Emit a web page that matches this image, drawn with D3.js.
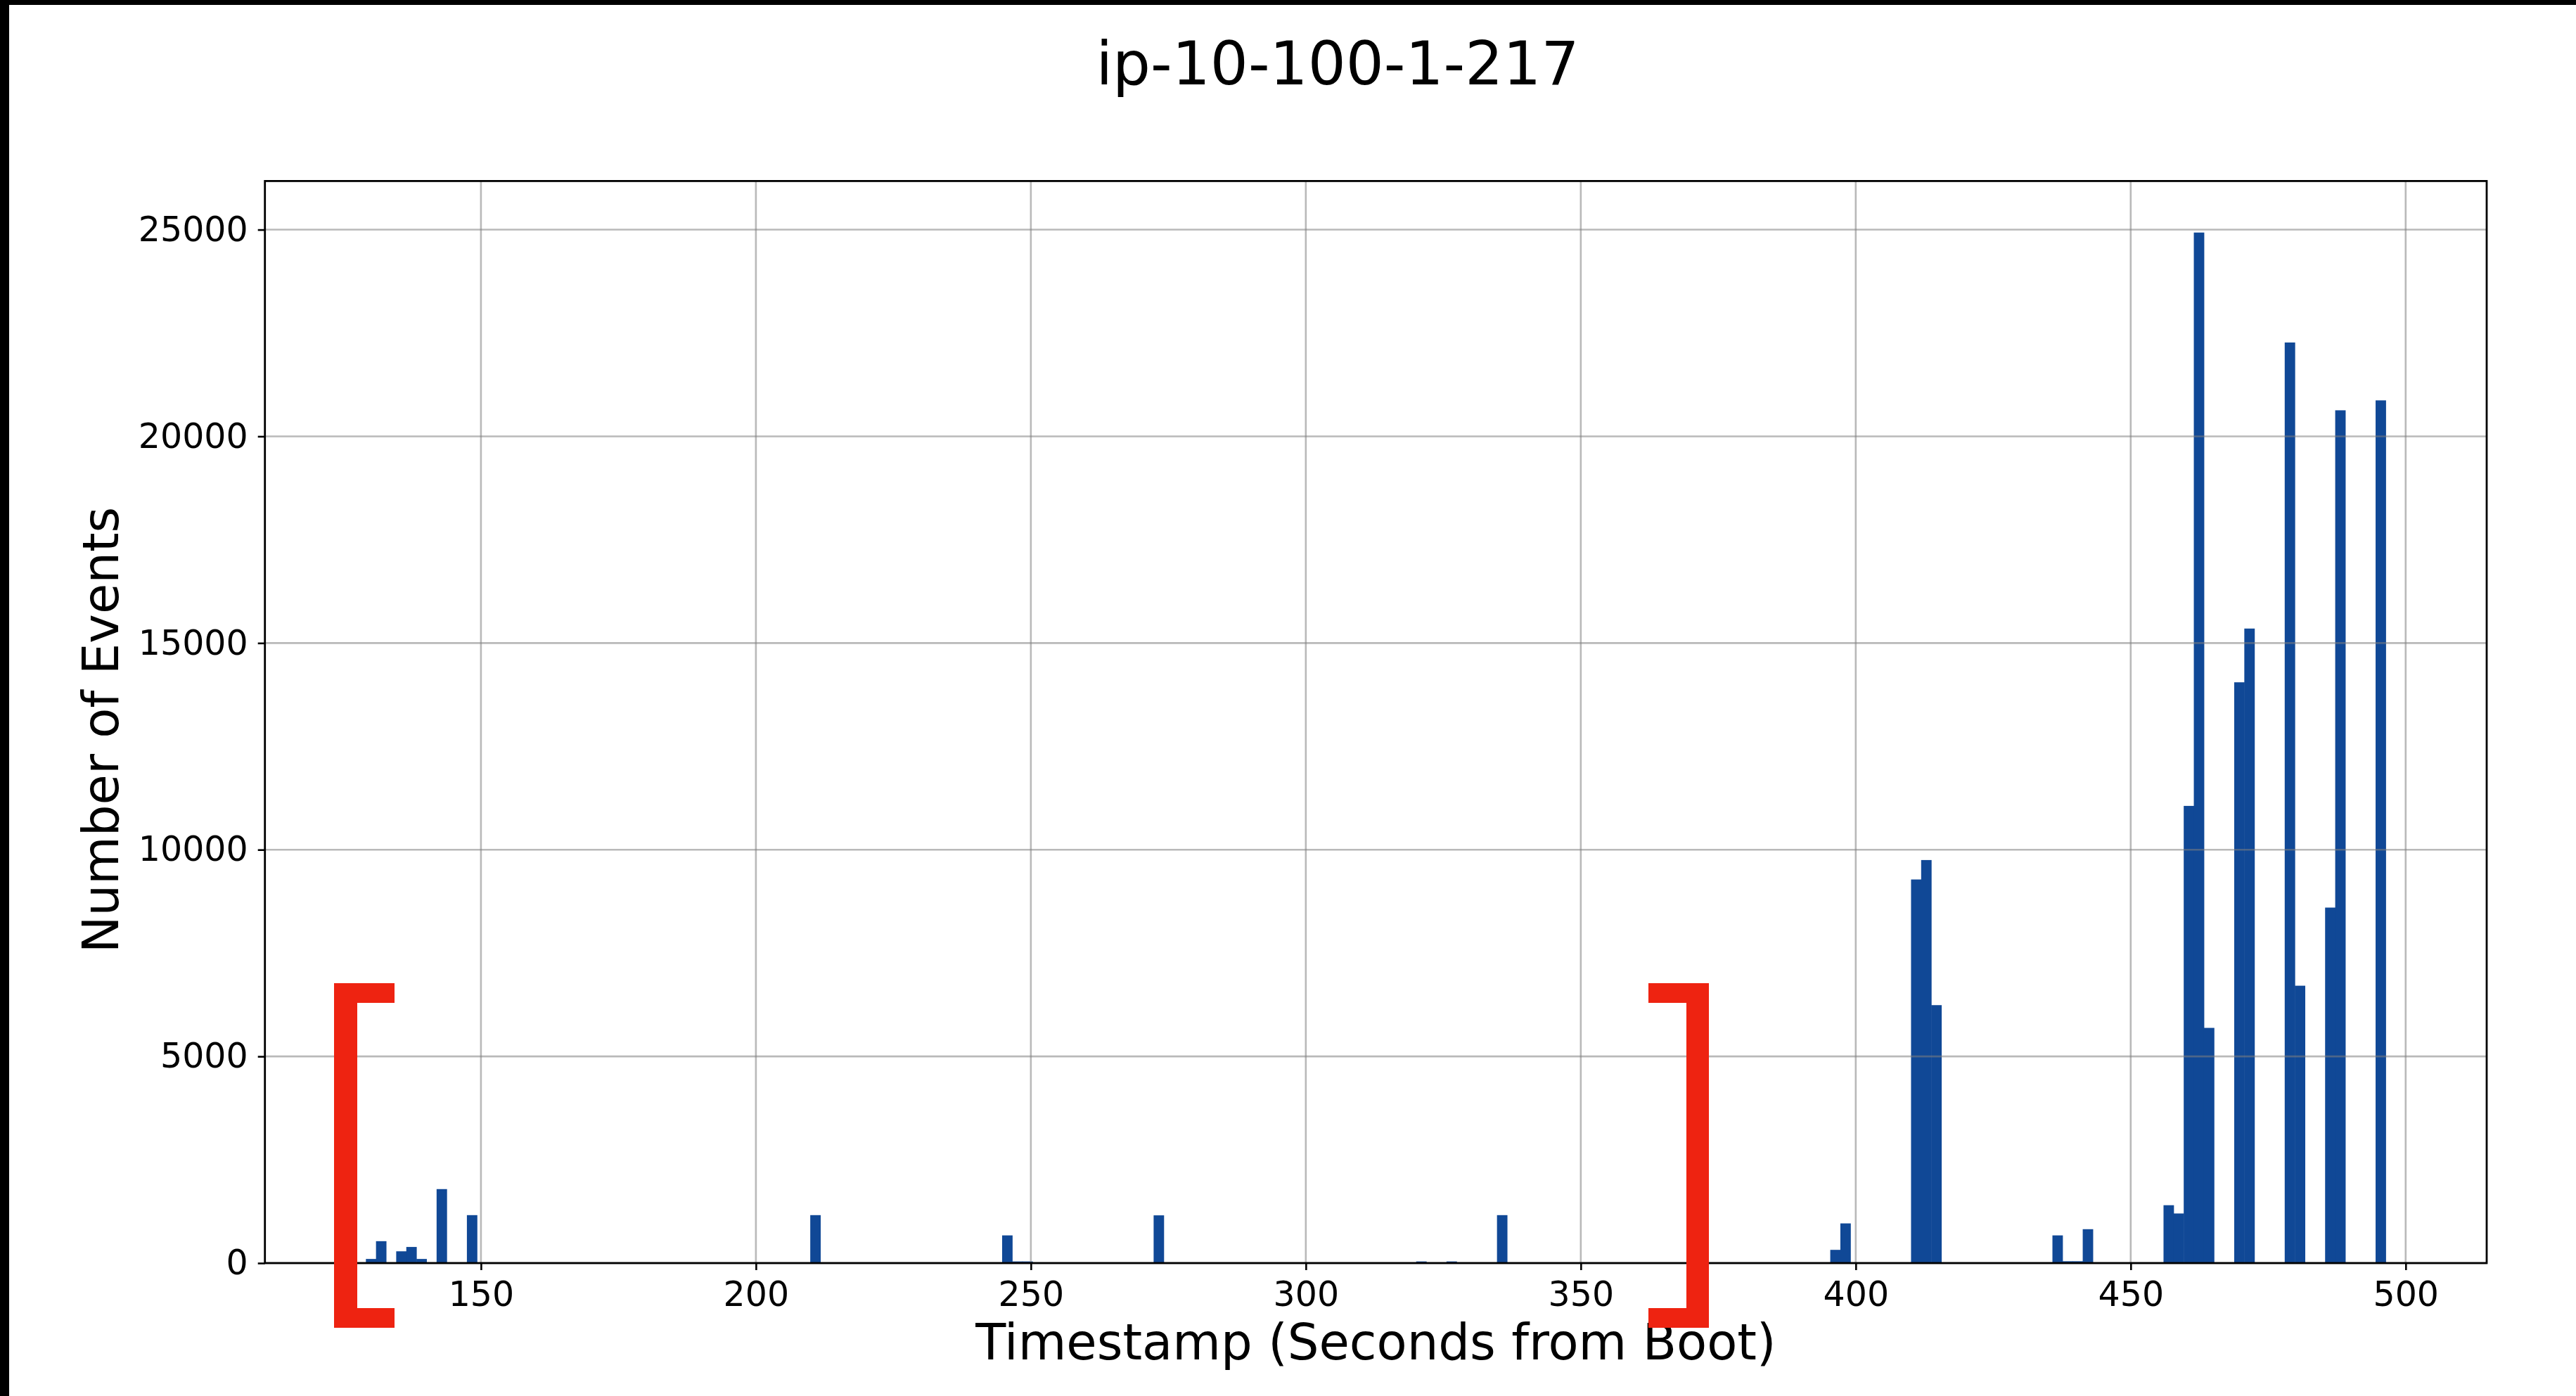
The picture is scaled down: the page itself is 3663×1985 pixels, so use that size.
<!DOCTYPE html>
<html>
<head>
<meta charset="utf-8">
<script src="https://cdn.jsdelivr.net/npm/d3@7"></script>
<style>
  html, body { margin: 0; padding: 0; background: #ffffff; }
  svg { display: block; }
  text { font-family: "DejaVu Sans", sans-serif; fill: #000; }
</style>
</head>
<body>
<svg id="chart" width="3663" height="1985"></svg>
<script>
// ---- data ----
const chartTitle = "ip-10-100-1-217";
const xLabel = "Timestamp (Seconds from Boot)";
const yLabel = "Number of Events";
const tMin = 129.08;          // first bin left edge (s)
const tMax = 496.37;          // last bin right edge (s)
const nBins = 200;
const binIndex = [0,1,3,4,5,7,10,44,63,64,65,78,104,107,112,145,146,153,154,155,167,168,169,170,178,179,180,181,182,185,186,190,191,194,195,199];
const counts   = [100,530,285,390,100,1790,1160,1160,670,40,40,1155,40,40,1160,320,960,9280,9750,6240,670,45,45,820,1400,1200,11060,24930,5690,14050,15350,22270,6710,8600,20630,20870];
const xTicks = [150,200,250,300,350,400,450,500];
const yTicks = [0,5000,10000,15000,20000,25000];

// ---- layout ----
const W = 3663, H = 1985;
const plot = { left: 376.7, right: 3536, top: 257.4, bottom: 1796 };
const svg = d3.select("#chart");

svg.append("rect").attr("width", W).attr("height", H).attr("fill", "#fff");

const binW = (tMax - tMin) / nBins;
const span = tMax - tMin;
const x = d3.scaleLinear()
  .domain([tMin - 0.05 * span, tMax + 0.05 * span])
  .range([plot.left, plot.right]);
const y = d3.scaleLinear()
  .domain([0, d3.max(counts) * 1.05])
  .range([plot.bottom, plot.top]);

const bins = binIndex.map((b, i) => ({ x0: tMin + b * binW, x1: tMin + (b + 1) * binW, n: counts[i] }));

// bars
svg.append("g").selectAll("rect").data(bins).join("rect")
  .attr("x", d => x(d.x0))
  .attr("width", d => x(d.x1) - x(d.x0) + 0.5)
  .attr("y", d => y(d.n))
  .attr("height", d => y(0) - y(d.n))
  .attr("fill", "#104896");

// grid (drawn over bars, as in the reference)
const grid = svg.append("g").attr("stroke", "#7f7f7f").attr("stroke-opacity", 0.55).attr("stroke-width", 2.6);
grid.selectAll("line.v").data(xTicks).join("line").attr("class", "v")
  .attr("x1", d => x(d)).attr("x2", d => x(d))
  .attr("y1", plot.top).attr("y2", plot.bottom);
grid.selectAll("line.h").data(yTicks).join("line").attr("class", "h")
  .attr("y1", d => y(d)).attr("y2", d => y(d))
  .attr("x1", plot.left).attr("x2", plot.right);

// axes
const xAxis = d3.axisBottom(x).tickValues(xTicks).tickSize(10).tickPadding(16).tickFormat(d3.format("d"));
const yAxis = d3.axisLeft(y).tickValues(yTicks).tickSize(10).tickPadding(14).tickFormat(d3.format("d"));

const gx = svg.append("g").attr("transform", `translate(0,${plot.bottom})`).call(xAxis);
const gy = svg.append("g").attr("transform", `translate(${plot.left},0)`).call(yAxis);
[gx, gy].forEach(g => {
  g.select(".domain").remove();
  g.selectAll(".tick line").attr("stroke", "#000").attr("stroke-width", 2.6);
  g.selectAll(".tick text").attr("font-size", 49).attr("font-family", "DejaVu Sans").attr("fill", "#000");
});
gx.selectAll(".tick text").attr("dy", "0.71em");

// frame
svg.append("rect")
  .attr("x", plot.left).attr("y", plot.top)
  .attr("width", plot.right - plot.left).attr("height", plot.bottom - plot.top)
  .attr("fill", "none").attr("stroke", "#000").attr("stroke-width", 2.8);

// labels
svg.append("text").attr("x", 1902).attr("y", 120).attr("text-anchor", "middle")
  .attr("font-size", 85).text(chartTitle);
svg.append("text").attr("x", (plot.left + plot.right) / 2).attr("y", 1933).attr("text-anchor", "middle")
  .attr("font-size", 70.5).text(xLabel);
svg.append("text").attr("transform", `translate(168,1038) rotate(-90)`).attr("text-anchor", "middle")
  .attr("font-size", 70.5).text(yLabel);

// red bracket annotations
const red = "#ee2311";
const brackets = [
  { outer: 475, inner: 508, tip: 561, top: 1398, bot: 1888, arm: 28 },
  { outer: 2430, inner: 2398, tip: 2344, top: 1398, bot: 1888, arm: 28 }
];
brackets.forEach(b => {
  const p = d3.path();
  p.moveTo(b.tip, b.top);
  p.lineTo(b.outer, b.top);
  p.lineTo(b.outer, b.bot);
  p.lineTo(b.tip, b.bot);
  p.lineTo(b.tip, b.bot - b.arm);
  p.lineTo(b.inner, b.bot - b.arm);
  p.lineTo(b.inner, b.top + b.arm);
  p.lineTo(b.tip, b.top + b.arm);
  p.closePath();
  svg.append("path").attr("d", p.toString()).attr("fill", red);
});

// black edges of the screenshot
svg.append("rect").attr("x", 0).attr("y", 0).attr("width", W).attr("height", 7).attr("fill", "#000");
svg.append("rect").attr("x", 0).attr("y", 0).attr("width", 13).attr("height", H).attr("fill", "#000");
</script>
</body>
</html>
